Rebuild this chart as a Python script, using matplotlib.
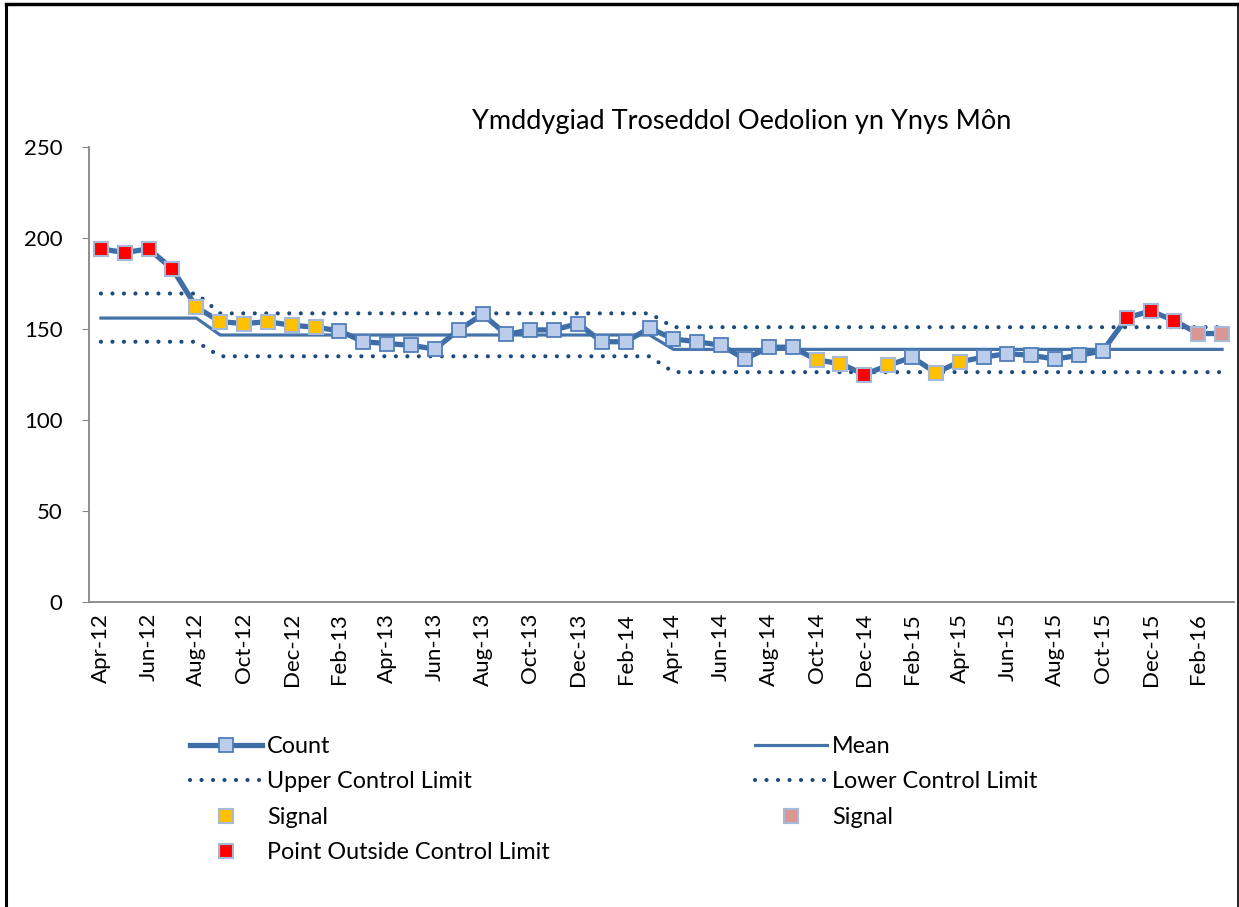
import matplotlib
matplotlib.use("Agg")
import matplotlib.pyplot as plt
from matplotlib.lines import Line2D
import numpy as np

plt.rcParams['font.family'] = ['Lato', 'DejaVu Sans']

# monthly labels Apr-12 .. Mar-16
months = ['Apr-12', 'May-12', 'Jun-12', 'Jul-12', 'Aug-12', 'Sep-12', 'Oct-12', 'Nov-12',
          'Dec-12', 'Jan-13', 'Feb-13', 'Mar-13', 'Apr-13', 'May-13', 'Jun-13', 'Jul-13',
          'Aug-13', 'Sep-13', 'Oct-13', 'Nov-13', 'Dec-13', 'Jan-14', 'Feb-14', 'Mar-14',
          'Apr-14', 'May-14', 'Jun-14', 'Jul-14', 'Aug-14', 'Sep-14', 'Oct-14', 'Nov-14',
          'Dec-14', 'Jan-15', 'Feb-15', 'Mar-15', 'Apr-15', 'May-15', 'Jun-15', 'Jul-15',
          'Aug-15', 'Sep-15', 'Oct-15', 'Nov-15', 'Dec-15', 'Jan-16', 'Feb-16', 'Mar-16']

count = [194, 192, 194, 183, 162, 154, 153, 154, 152, 151, 149, 143, 142, 141, 139, 149.5,
         158, 147, 149.5, 149.5, 153, 143, 143, 150.5, 144.5, 143, 141, 133.5, 140, 140, 133, 131,
         125, 130, 134.5, 126, 132, 134.5, 136.5, 135.5, 133.5, 135.5, 138, 156, 160, 154.5,
         147.5, 147.5]

# n = normal, s = signal (yellow), o = outside limit (red), p = signal (pink)
flag = ['o', 'o', 'o', 'o', 's', 's', 's', 's', 's', 's', 'n', 'n', 'n', 'n', 'n', 'n',
        'n', 'n', 'n', 'n', 'n', 'n', 'n', 'n', 'n', 'n', 'n', 'n', 'n', 'n', 's', 's',
        'o', 's', 'n', 's', 's', 'n', 'n', 'n', 'n', 'n', 'n', 'o', 'o', 'o', 'p', 'p']

# control limits per segment (start index, mean, ucl, lcl)
seg_start = [0, 5, 24]
seg_mean = [156, 146.7, 138.8]
seg_ucl = [169.5, 158.6, 151]
seg_lcl = [143, 135, 126.3]

n = len(months)
x = np.arange(n)
mean = np.zeros(n)
ucl = np.zeros(n)
lcl = np.zeros(n)
bounds = seg_start + [n]
for i in range(len(seg_start)):
    mean[bounds[i]:bounds[i + 1]] = seg_mean[i]
    ucl[bounds[i]:bounds[i + 1]] = seg_ucl[i]
    lcl[bounds[i]:bounds[i + 1]] = seg_lcl[i]

line_col = '#3F6EA6'
dot_col = '#1F4A7E'
dotted = (0, (0.01, 2.75))

fig = plt.figure(figsize=(12.39, 9.07), dpi=100)
ax = fig.add_axes([89 / 1239, 1 - 602 / 907, 1145 / 1239, 455 / 907])

ucl_l, = ax.plot(x, ucl, color=dot_col, lw=3.0, linestyle=dotted, dash_capstyle='round', zorder=2)
lcl_l, = ax.plot(x, lcl, color=dot_col, lw=3.0, linestyle=dotted, dash_capstyle='round', zorder=2)
mean_l, = ax.plot(x, mean, color='#4473AA', lw=2.3, zorder=3)
count_l, = ax.plot(x, count, color=line_col, lw=3.8, marker='s', markersize=10,
                   markerfacecolor='#BCCDEB', markeredgecolor='#4F7EBB', markeredgewidth=1.3,
                   zorder=4)

colors = {'s': '#FFC000', 'o': '#FF0000', 'p': '#D99694'}
handles = {}
for k in ['s', 'p', 'o']:
    idx = [i for i in range(n) if flag[i] == k]
    h, = ax.plot(x[idx], np.array(count)[idx], linestyle='none', marker='s', markersize=10,
                 markerfacecolor=colors[k], markeredgecolor='#A6B9D8', markeredgewidth=1.5,
                 zorder=5)
    handles[k] = h

ax.set_xlim(-0.5, n - 0.5)
ax.set_ylim(0, 250)
ax.set_yticks(range(0, 251, 50))
ax.set_xticks(x[::2])
ax.set_xticklabels(months[::2], rotation=90, fontsize=16)
ax.tick_params(axis='x', length=0, pad=8)
ax.tick_params(axis='y', length=5, color='#868686', labelsize=16, pad=14)
for s in ['top', 'right']:
    ax.spines[s].set_visible(False)
for s in ['left', 'bottom']:
    ax.spines[s].set_color('#868686')
    ax.spines[s].set_linewidth(1.3)

fig.text(742 / 1239, 1 - 122 / 907, 'Ymddygiad Troseddol Oedolion yn Ynys Môn',
         ha='center', va='center', fontsize=19.5)

leg_kw = dict(loc='upper left', frameon=False, fontsize=16.8, handlelength=3.1,
              handletextpad=0.2, labelspacing=0.62, numpoints=1, borderpad=0,
              borderaxespad=0)
fig.legend([count_l, ucl_l, handles['s'], handles['o']],
           ['Count', 'Upper Control Limit', 'Signal', 'Point Outside Control Limit'],
           bbox_to_anchor=(190 / 1239, 1 - 736 / 907), **leg_kw)
fig.legend([mean_l, lcl_l, handles['p']],
           ['Mean', 'Lower Control Limit', 'Signal'],
           bbox_to_anchor=(755 / 1239, 1 - 736 / 907), **leg_kw)

# outer frame
fig.add_artist(Line2D([6 / 1239, 6 / 1239], [0, 1 - 4 / 907], color='black', lw=2.2,
                      transform=fig.transFigure))
fig.add_artist(Line2D([6 / 1239, 1238 / 1239], [1 - 4 / 907, 1 - 4 / 907], color='black',
                      lw=2.5, transform=fig.transFigure))
fig.add_artist(Line2D([1237.5 / 1239, 1237.5 / 1239], [0, 1 - 4 / 907], color='black',
                      lw=1.2, transform=fig.transFigure))

fig.savefig('out.png', dpi=100)
